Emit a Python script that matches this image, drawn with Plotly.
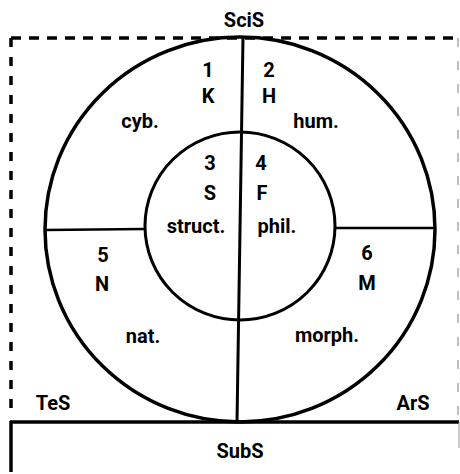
import plotly.graph_objects as go

# ---- content (labels) ----
sector_numbers = ["1", "2", "3", "4", "5", "6"]
sector_letters = ["K", "H", "S", "F", "N", "M"]
sector_names = ["cyb.", "hum.", "struct.", "phil.", "nat.", "morph."]
system_labels = ["SciS", "TeS", "ArS", "SubS"]

# ---- layout table (pixel positions in a 460x474 canvas, y downward) ----
num_pos = [(208, 72), (269, 72), (210, 165), (261, 165), (103, 257), (367, 255)]
let_pos = [(208, 98), (269, 98), (210, 195), (262, 195), (102, 286), (367, 285)]
name_pos = [(140, 123), (316, 123), (196, 228), (277, 228), (143, 338), (327, 337)]
sys_pos = [(244, 22), (53, 405), (413, 405), (240, 453)]

W, H = 460, 474
FONT = dict(family="Roboto", size=20, color="black", weight="bold")

fig = go.Figure()

xs, ys, ts = [], [], []
for labels, pos in [(sector_numbers, num_pos), (sector_letters, let_pos),
                    (sector_names, name_pos), (system_labels, sys_pos)]:
    for t, (x, y) in zip(labels, pos):
        xs.append(x); ys.append(y); ts.append(t)

fig.add_trace(go.Scatter(x=xs, y=ys, text=ts, mode="text",
                         textposition="middle center", textfont=FONT,
                         hoverinfo="skip", showlegend=False))

shapes = []
line = lambda x0, y0, x1, y1, w=2.5, color="black", dash="solid": dict(
    type="line", xref="x", yref="y", x0=x0, y0=y0, x1=x1, y1=y1,
    line=dict(color=color, width=w, dash=dash))

# dashed frame
shapes.append(line(11, 38, 459, 38, 3.5, dash="10px,8px"))
shapes.append(line(11, 38, 11, 416, 3.5, dash="9px,10px"))
shapes.append(line(458, 38, 458, 420, 1.5, color="#aaaaaa", dash="9px,14px"))
# SubS box
shapes.append(line(10, 422, 459, 422, 3.5))
shapes.append(line(11, 421, 11, 472, 3.5))
shapes.append(line(459, 422, 459, 448, 1, color="#999999"))
# circles
shapes.append(dict(type="circle", xref="x", yref="y", x0=45, x1=435, y0=37, y1=422,
                   line=dict(color="black", width=3.5)))
shapes.append(dict(type="circle", xref="x", yref="y", x0=145, x1=335, y0=132, y1=320,
                   line=dict(color="black", width=3)))
# dividing lines
shapes.append(line(243, 37, 237, 422, 3))
shapes.append(line(45, 230, 145, 229, 2.5))
shapes.append(line(335, 228, 435, 228, 2.5))

fig.update_layout(
    width=W, height=H, margin=dict(l=0, r=0, t=0, b=0),
    paper_bgcolor="white", plot_bgcolor="white", shapes=shapes,
    xaxis=dict(range=[0, W], visible=False, fixedrange=True),
    yaxis=dict(range=[H, 0], visible=False, fixedrange=True),
)
fig.write_html("out.html", config={"displayModeBar": False},
               post_script="document.body.style.margin='0';document.body.style.padding='0';")
